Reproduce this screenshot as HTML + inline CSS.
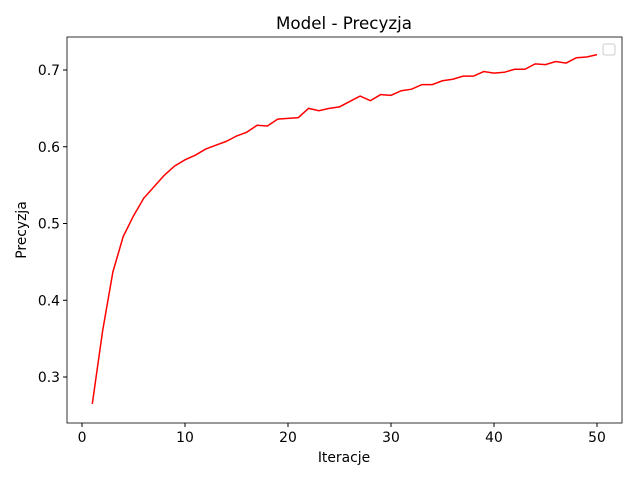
<!DOCTYPE html>
<html><head><meta charset="utf-8"><style>
body{margin:0;background:#fff;font-family:"Liberation Sans","DejaVu Sans",sans-serif}
svg text{font-family:"DejaVu Sans","Liberation Sans",sans-serif;font-size:13.9px}
</style></head><body>
<svg id="c" width="640" height="480">
<rect width="640" height="480" fill="#fff"/>
<text x="344" y="29" text-anchor="middle" style="font-size:16.7px">Model - Precyzja</text>
<g id="ticks"></g>
<path id="line" fill="none" stroke="red" stroke-width="1.5"/>
<rect x="67" y="37" width="555" height="386" fill="none" stroke="#000" stroke-width="0.8"/>
<rect x="603" y="44" width="12" height="11" rx="2" fill="#fff" stroke="#ccc"/>
<text x="344" y="462" text-anchor="middle">Iteracje</text>
<text transform="translate(26,230) rotate(-90)" text-anchor="middle">Precyzja</text>
</svg>
<script>
const iterations=[];for(let i=1;i<=50;i++)iterations.push(i);
const precision=[0.265,0.36,0.437,0.483,0.51,0.533,0.548,0.563,0.575,0.583,0.589,0.597,0.602,0.607,0.614,0.619,0.628,0.627,0.636,0.637,0.638,0.650,0.647,0.650,0.652,0.659,0.666,0.660,0.668,0.667,0.673,0.675,0.681,0.681,0.686,0.688,0.692,0.692,0.698,0.696,0.697,0.701,0.701,0.708,0.707,0.711,0.709,0.716,0.717,0.720];
const xTicks=[0,10,20,30,40,50];
const yTicks=[0.3,0.4,0.5,0.6,0.7];
const X=v=>82+v*10.3, Y=v=>377-(v-0.3)*767.5;
const ns="http://www.w3.org/2000/svg", g=document.getElementById('ticks');
xTicks.forEach(t=>{
 const l=document.createElementNS(ns,'line');l.setAttribute('x1',X(t));l.setAttribute('x2',X(t));l.setAttribute('y1',423);l.setAttribute('y2',427);l.setAttribute('stroke','#000');
 
 g.appendChild(l);
 const s=document.createElementNS(ns,'text');s.setAttribute('x',X(t));s.setAttribute('y',442);s.setAttribute('text-anchor','middle');s.textContent=t;
 
 g.appendChild(s);
});
yTicks.forEach(t=>{
 const l=document.createElementNS(ns,'line');l.setAttribute('x1',63);l.setAttribute('x2',67);l.setAttribute('y1',Y(t));l.setAttribute('y2',Y(t));l.setAttribute('stroke','#000');
 
 g.appendChild(l);
 const s=document.createElementNS(ns,'text');s.setAttribute('x',60);s.setAttribute('y',Y(t)+5);s.setAttribute('text-anchor','end');s.textContent=t.toFixed(1);
 
 g.appendChild(s);
});
document.getElementById('line').setAttribute('d',precision.map((v,i)=>(i?'L':'M')+X(iterations[i])+','+Y(v)).join(''));
</script>
</body></html>
